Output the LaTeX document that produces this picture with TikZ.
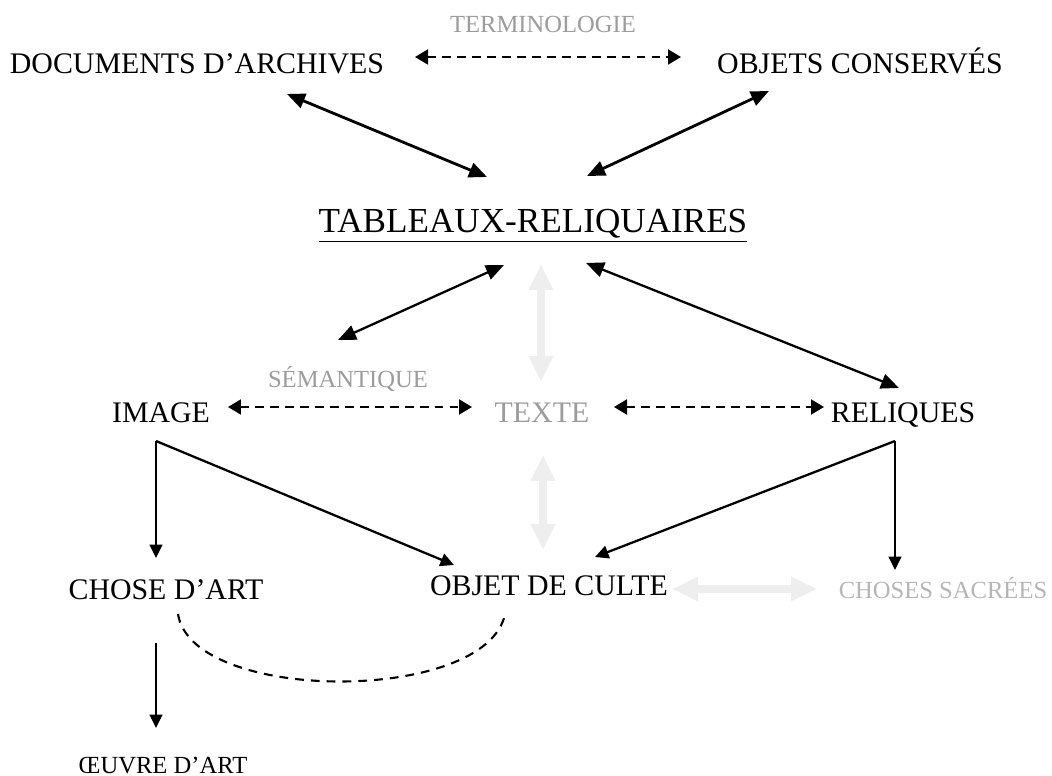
\documentclass[tikz,border=0pt]{standalone}
\usepackage{fontspec}
\setmainfont{Liberation Serif}
\usepackage{tikz}
\usetikzlibrary{arrows.meta,calc}

\definecolor{labelgray}{HTML}{9C9C9C}
\definecolor{palegray}{HTML}{B6B6B6}
\definecolor{ghostgray}{HTML}{EEEEEE}

\begin{document}
\begin{tikzpicture}[x=0.02cm,y=-0.02cm,
  every node/.style={anchor=base,inner sep=0pt},
  bigtext/.style={font=\fontsize{17}{20}\selectfont},
  smalltext/.style={font=\fontsize{14}{17}\selectfont},
  bothway/.style={line width=1.6pt,{Triangle[length=0.36cm,width=0.3cm]}-{Triangle[length=0.36cm,width=0.3cm]}},
  oneway/.style={line width=1pt,-{Triangle[length=0.27cm,width=0.26cm]}},
  dashway/.style={line width=1.1pt,dash pattern=on 5pt off 3.5pt,{Triangle[length=0.26cm,width=0.3cm]}-{Triangle[length=0.26cm,width=0.3cm]}},
  ghostway/.style={ghostgray,line width=0.17cm,{Triangle[length=0.52cm,width=0.46cm]}-{Triangle[length=0.52cm,width=0.46cm]}}]
  \useasboundingbox (0,0) rectangle (1052,776);
  \node[smalltext,labelgray] (term) at (543,33) {TERMINOLOGIE};
  \node[bigtext] (doc) at (197,74) {DOCUMENTS D’ARCHIVES};
  \node[bigtext] (obj) at (860,74) {OBJETS CONSERVÉS};
  \node[font=\fontsize{20}{24}\selectfont] (tab) at (533,233) {\underline{TABLEAUX-RELIQUAIRES}};
  \node[smalltext,labelgray] (sem) at (348,388) {SÉMANTIQUE};
  \node[bigtext] (img) at (161,423) {IMAGE};
  \node[bigtext,labelgray] (txt) at (542,423) {TEXTE};
  \node[bigtext] (rel) at (903,423) {RELIQUES};
  \node[bigtext] (chose) at (166,600) {CHOSE D’ART};
  \node[bigtext] (culte) at (549,596) {OBJET DE CULTE};
  \node[smalltext,palegray] (sacr) at (943,599) {CHOSES SACRÉES};
  \node[smalltext] (oeuvre) at (163,773) {ŒUVRE D’ART};

  \draw[dashway] ($(doc.base)+(218,-17)$) -- ($(obj.base)+(-179,-17)$);
  \draw[bothway] ($(doc.base)+(90,20)$) -- ($(tab.base)+(-46,-56)$);
  \draw[bothway] ($(obj.base)+(-91,17)$) -- ($(tab.base)+(54,-57)$);
  \draw[bothway,line width=1.3pt] ($(tab.base)+(-29,32)$) -- ($(img.base)+(177,-83)$);
  \draw[bothway,line width=1.3pt] ($(tab.base)+(53,30)$) -- ($(rel.base)+(-4,-35)$);
  \draw[ghostway] ($(tab.base)+(8,31)$) -- ($(txt.base)+(-1,-41)$);
  \draw[dashway] ($(img.base)+(67,-16)$) -- ($(txt.base)+(-70,-16)$);
  \draw[dashway] ($(txt.base)+(72,-16)$) -- ($(rel.base)+(-79,-16)$);
  \draw[oneway] ($(img.base)+(-5,18)$) -- ($(chose.base)+(-10,-42)$);
  \draw[oneway,line width=1.3pt] ($(img.base)+(-5,18)$) -- ($(culte.base)+(-95,-31)$);
  \draw[oneway,line width=1.3pt] ($(rel.base)+(-8,18)$) -- ($(culte.base)+(46,-39)$);
  \draw[oneway] ($(rel.base)+(-8,18)$) -- ($(sacr.base)+(-48,-29)$);
  \draw[ghostway] ($(txt.base)+(1,32)$) -- ($(culte.base)+(-6,-46)$);
  \draw[ghostway] ($(culte.base)+(123,-7)$) -- ($(sacr.base)+(-126,-10)$);
  \draw[line width=1.2pt,dash pattern=on 5pt off 4pt] ($(chose.base)+(12,14)$) .. controls (192,704) and (487,704) .. ($(culte.base)+(-44,18)$);
  \draw[oneway] ($(chose.base)+(-10,43)$) -- ($(oeuvre.base)+(-7,-45)$);
\end{tikzpicture}
\end{document}
